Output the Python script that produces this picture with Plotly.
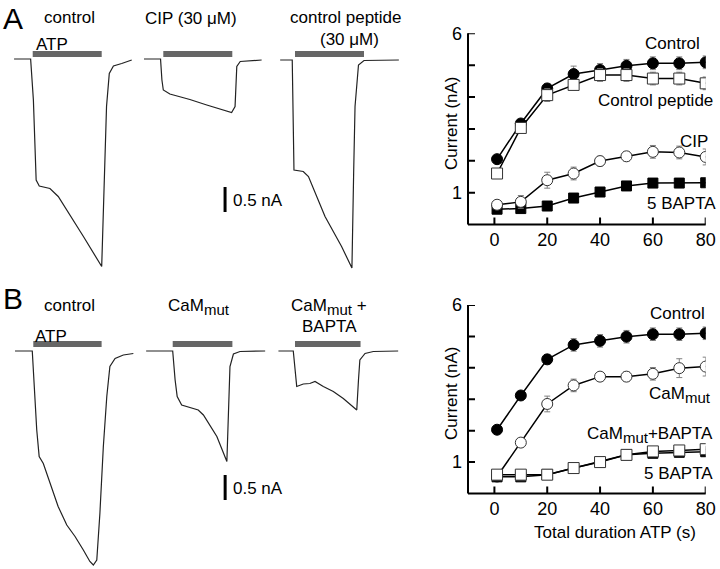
import plotly.graph_objects as go

W, H = 720, 569
FONT = "Liberation Sans, Arial, Helvetica, sans-serif"

# ---------------- summary plots (right) ----------------
TIME_S = [1, 10, 20, 30, 40, 50, 60, 70, 80]
X_TICKS = [0, 20, 40, 60, 80]
Y_TICKS = [1, 6]
Y_ALL_TICKS = [1, 2, 3, 4, 5, 6]
X_RANGE = [-10, 80]
Y_RANGE = [0, 6]

A_CONTROL = [2.05, 3.17, 4.27, 4.72, 4.85, 4.98, 5.06, 5.06, 5.09]
A_CONTROL_ERR = [0.1, 0.1, 0.15, 0.25, 0.2, 0.2, 0.2, 0.2, 0.2]
A_PEPTIDE = [1.60, 3.03, 4.06, 4.38, 4.69, 4.69, 4.58, 4.58, 4.43]
A_PEPTIDE_ERR = [0.1, 0.1, 0.2, 0.15, 0.2, 0.2, 0.2, 0.2, 0.2]
A_CIP = [0.62, 0.71, 1.39, 1.60, 1.99, 2.14, 2.28, 2.26, 2.12]
A_CIP_ERR = [0.1, 0.2, 0.25, 0.2, 0.15, 0.15, 0.2, 0.2, 0.25]
A_BAPTA = [0.48, 0.50, 0.58, 0.83, 1.02, 1.21, 1.30, 1.30, 1.31]
A_BAPTA_ERR = [0.05, 0.05, 0.05, 0.05, 0.05, 0.05, 0.05, 0.05, 0.1]

B_CONTROL = [2.03, 3.12, 4.27, 4.73, 4.86, 4.99, 5.07, 5.07, 5.10]
B_CONTROL_ERR = [0.1, 0.1, 0.15, 0.2, 0.2, 0.2, 0.2, 0.2, 0.2]
B_CAMMUT = [0.54, 1.62, 2.85, 3.44, 3.72, 3.72, 3.81, 3.99, 4.04]
B_CAMMUT_ERR = [0.05, 0.05, 0.25, 0.2, 0.1, 0.15, 0.2, 0.3, 0.3]
B_CAMMUT_BAPTA = [0.60, 0.60, 0.60, 0.81, 1.00, 1.23, 1.34, 1.37, 1.41]
B_CAMMUT_BAPTA_ERR = [0.05, 0.05, 0.05, 0.1, 0.05, 0.15, 0.1, 0.1, 0.1]
B_BAPTA = [0.53, 0.53, 0.60, 0.81, 1.00, 1.23, 1.28, 1.31, 1.33]
B_BAPTA_ERR = [0.05, 0.05, 0.05, 0.05, 0.05, 0.05, 0.05, 0.05, 0.05]

# ---------------- current traces (left), time in s, current in nA ----------------
A_CTRL_T = [-0.54, -0.06, 0.02, 0.10, 0.19, 0.50, 0.74, 0.99, 1.47, 2.00, 2.05, 2.14, 2.22, 2.34, 2.58, 2.87]
A_CTRL_I = [0, 0, -0.82, -2.42, -2.54, -2.59, -2.75, -3.02, -3.55, -4.15, -2.95, -0.95, -0.29, -0.14, -0.09, -0.02]
A_CIP_T = [-0.56, -0.08, -0.04, 0.0, 0.19, 0.77, 1.26, 1.74, 1.98, 2.08, 2.13, 2.23, 2.85]
A_CIP_I = [0, 0, -0.42, -0.62, -0.70, -0.81, -0.92, -1.02, -1.07, -0.95, -0.15, -0.05, -0.02]
A_PEP_T = [-0.43, -0.08, -0.03, 0.10, 0.24, 0.39, 0.63, 0.87, 1.35, 1.65, 1.70, 1.74, 1.84, 2.00, 3.01]
A_PEP_I = [0, 0, -2.20, -2.21, -2.23, -2.33, -2.73, -3.13, -3.73, -4.16, -2.26, -0.93, -0.10, -0.01, 0]
B_CTRL_T = [-0.53, -0.03, 0.10, 0.17, 0.29, 0.48, 0.72, 0.97, 1.21, 1.45, 1.64, 1.74, 1.84, 1.93, 2.03, 2.13, 2.22, 2.37, 2.61, 2.90]
B_CTRL_I = [0, 0, -1.58, -2.11, -2.25, -2.65, -3.11, -3.48, -3.71, -3.98, -4.21, -4.28, -4.18, -3.25, -1.91, -0.91, -0.31, -0.15, -0.08, -0.05]
B_MUT_T = [-0.77, 0.0, 0.07, 0.13, 0.26, 0.50, 0.74, 0.89, 1.08, 1.28, 1.57, 1.61, 1.66, 1.76, 1.95, 2.68]
B_MUT_I = [0, 0, -0.58, -0.91, -1.08, -1.13, -1.18, -1.28, -1.48, -1.71, -2.21, -1.38, -0.31, -0.06, -0.01, 0]
B_MUTB_T = [-0.48, -0.05, 0.05, 0.24, 0.43, 0.58, 0.82, 1.11, 1.40, 1.79, 1.84, 1.88, 2.03, 2.27, 2.99]
B_MUTB_I = [0, 0, -0.71, -0.66, -0.65, -0.61, -0.71, -0.81, -0.95, -1.18, -0.58, -0.18, -0.05, -0.01, 0]

# ATP application windows (s) per trace
ATP_ON = [0, 0, 0, 0, 0, 0]
ATP_OFF = [2.0, 2.0, 2.0, 1.98, 1.73, 1.90]
SCALE_NA = 0.5

# ---------------- layout helpers ----------------
PXS = 34.5   # px per second
PXA = 50.0   # px per nA


def fx(p):
    return p / W


def fy(p):
    return 1 - p / H


fig = go.Figure()
layout = dict(width=W, height=H, margin=dict(l=0, r=0, t=0, b=0, autoexpand=False),
              paper_bgcolor="white", plot_bgcolor="white", template="none",
              showlegend=False, font=dict(family=FONT, color="black", size=17))

# panel geometry: (t=0 pixel x, baseline pixel y, bar current level)
trace_panels = [
    (A_CTRL_T, A_CTRL_I, 32.7, 59, 0.10),
    (A_CIP_T, A_CIP_I, 163.3, 59, 0.10),
    (A_PEP_T, A_PEP_I, 295.0, 60, 0.12),
    (B_CTRL_T, B_CTRL_I, 33.3, 351, 0.14),
    (B_MUT_T, B_MUT_I, 172.7, 351, 0.14),
    (B_MUTB_T, B_MUTB_I, 295.0, 351, 0.14),
]

for k, (tt, ii, t0, base, barI) in enumerate(trace_panels):
    n = k + 1
    xa = "xaxis" if n == 1 else f"xaxis{n}"
    ya = "yaxis" if n == 1 else f"yaxis{n}"
    xr = "x" if n == 1 else f"x{n}"
    yr = "y" if n == 1 else f"y{n}"
    top = base - 0.6 * PXA
    bottom = min(base + 4.5 * PXA, H)
    layout[xa] = dict(domain=[fx(t0 - 0.8 * PXS), fx(t0 + 3.2 * PXS)], range=[-0.8, 3.2],
                      showline=False, showgrid=False, zeroline=False, ticks="",
                      showticklabels=False, anchor=yr, fixedrange=True)
    layout[ya] = dict(domain=[fy(bottom), fy(top)], range=[-(bottom - base) / PXA, 0.6],
                      showline=False, showgrid=False, zeroline=False, ticks="",
                      showticklabels=False, anchor=xr, fixedrange=True)
    fig.add_trace(go.Scatter(x=[ATP_ON[k], ATP_OFF[k]], y=[barI, barI], mode="lines",
                             line=dict(color="#666666", width=6), xaxis=xr, yaxis=yr,
                             hoverinfo="skip"))
    fig.add_trace(go.Scatter(x=tt, y=ii, mode="lines", line=dict(color="#222222", width=1.2),
                             xaxis=xr, yaxis=yr))

# scale bars (0.5 nA)
fig.add_trace(go.Scatter(x=[1.79, 1.79], y=[-2.56, -2.56 - SCALE_NA], mode="lines",
                         line=dict(color="black", width=3), xaxis="x2", yaxis="y2"))
fig.add_trace(go.Scatter(x=[1.52, 1.52], y=[-2.48, -2.48 - SCALE_NA], mode="lines",
                         line=dict(color="black", width=3), xaxis="x5", yaxis="y5"))

# ---------------- summary axes ----------------
shapes = []
TICK_PX = 7
AX_LEFT, AX_RIGHT = 468, 705.7


def summary_axes(n, top_px, zero_px):
    layout[f"xaxis{n}"] = dict(range=X_RANGE, domain=[fx(AX_LEFT), fx(AX_RIGHT)],
                               tickmode="array", tickvals=X_TICKS, showline=False, ticks="",
                               showgrid=False, zeroline=False, ticklabelstandoff=2,
                               tickfont=dict(size=18, family=FONT, color="black"),
                               anchor=f"y{n}")
    layout[f"yaxis{n}"] = dict(range=Y_RANGE, domain=[fy(zero_px), fy(top_px)],
                               tickmode="array", tickvals=Y_TICKS, showline=False, ticks="",
                               showgrid=False, zeroline=False, ticklabelstandoff=5,
                               tickfont=dict(size=18, family=FONT, color="black"),
                               anchor=f"x{n}")
    line = dict(color="black", width=2)
    xd, yd = f"x{n} domain", f"y{n} domain"
    shapes.append(dict(type="line", xref=xd, yref=yd, x0=0, x1=1, y0=0, y1=0, line=line))
    shapes.append(dict(type="line", xref=xd, yref=yd, x0=0, x1=0, y0=0, y1=1, line=line))
    hfrac = TICK_PX / (zero_px - top_px)
    wfrac = TICK_PX / (AX_RIGHT - AX_LEFT)
    for v in X_TICKS:
        shapes.append(dict(type="line", xref=f"x{n}", yref=yd, x0=v, x1=v, y0=0, y1=hfrac,
                           line=line))
    for v in Y_ALL_TICKS:
        shapes.append(dict(type="line", xref=xd, yref=f"y{n}", x0=0, x1=wfrac, y0=v, y1=v,
                           line=line))


summary_axes(7, 33.3, 224.5)
summary_axes(8, 305.0, 493.5)

FILLED_C = dict(symbol="circle", size=11, color="black", line=dict(color="black", width=1))
OPEN_C = dict(symbol="circle", size=11, color="white", line=dict(color="#333333", width=1))
FILLED_S = dict(symbol="square", size=10, color="black", line=dict(color="black", width=1))
OPEN_S = dict(symbol="square", size=11, color="white", line=dict(color="#333333", width=1))


def series(y, err, marker, ax):
    fig.add_trace(go.Scatter(
        x=TIME_S, y=y, mode="lines+markers", marker=marker,
        line=dict(color="black", width=1.5),
        error_y=dict(type="data", array=err, color="#808080", thickness=1, width=3),
        xaxis=f"x{ax}", yaxis=f"y{ax}"))


series(A_CONTROL, A_CONTROL_ERR, FILLED_C, 7)
series(A_PEPTIDE, A_PEPTIDE_ERR, OPEN_S, 7)
series(A_BAPTA, A_BAPTA_ERR, FILLED_S, 7)
series(A_CIP, A_CIP_ERR, OPEN_C, 7)

series(B_CONTROL, B_CONTROL_ERR, FILLED_C, 8)
series(B_CAMMUT, B_CAMMUT_ERR, OPEN_C, 8)
series(B_BAPTA, B_BAPTA_ERR, FILLED_S, 8)
series(B_CAMMUT_BAPTA, B_CAMMUT_BAPTA_ERR, OPEN_S, 8)

# ---------------- text ----------------
ann = []
MUT = "CaM<sub><span style='font-size:15px'>mut</span></sub>"


def text(s, x, y, size=17, xanchor="center", angle=0):
    ann.append(dict(text=s, x=fx(x), y=fy(y), xref="paper", yref="paper",
                    xanchor=xanchor, yanchor="middle", showarrow=False,
                    textangle=angle, font=dict(size=size, family=FONT, color="black")))


text("A", 1, 19, size=30, xanchor="left")
text("B", 1, 298, size=30, xanchor="left")
text("control", 69, 18)
text("CIP (30 μM)", 190.5, 19)
text("control peptide", 346, 18)
text("(30 μM)", 349, 39.5)
text("ATP", 34, 45, xanchor="left")
text("0.5 nA", 231, 200.5, xanchor="left")

text("control", 69, 305)
text(MUT, 199, 307)
text(MUT + " +", 329, 307)
text("BAPTA", 329, 326)
text("ATP", 33, 336, xanchor="left")
text("0.5 nA", 231, 488, xanchor="left")

text("Control", 702, 43, xanchor="right")
text("Control peptide", 715, 101, xanchor="right")
text("CIP", 710, 141, xanchor="right")
text("5 BAPTA", 718, 203, xanchor="right")
text("Current (nA)", 451.7, 123.3, angle=-90)

text("Control", 707, 313, xanchor="right")
text(MUT, 713, 395, xanchor="right")
text(MUT + "+BAPTA", 715, 435, xanchor="right")
text("5 BAPTA", 715, 473, xanchor="right")
text("Current (nA)", 451.7, 393.3, angle=-90)
text("Total duration ATP (s)", 615, 532)

layout["annotations"] = ann
layout["shapes"] = shapes
fig.update_layout(**layout)
fig.write_html("out.html", config={"displayModeBar": False},
               post_script="document.body.style.margin='0px';")
